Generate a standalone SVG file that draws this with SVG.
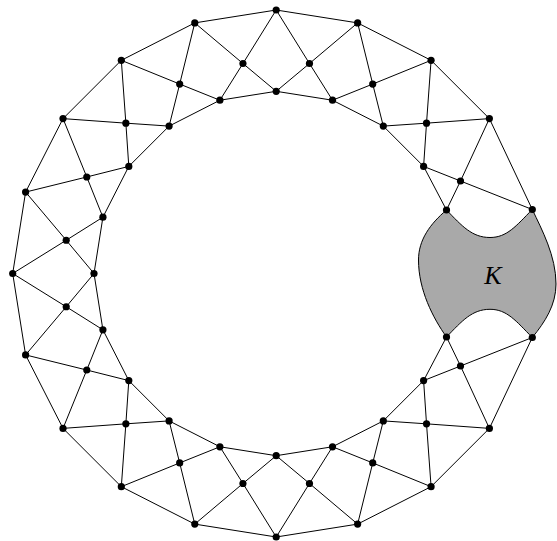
<svg xmlns="http://www.w3.org/2000/svg" width="557" height="541" viewBox="0 0 557 541">
<style>
.e{fill:none;stroke:#000;stroke-width:1;stroke-linejoin:round}
.n circle{fill:#000}
.k{fill:#a9a9a9;stroke:#000;stroke-width:1}
.lbl{font-family:"Liberation Serif",serif;font-style:italic;font-size:26px;fill:#000}
</style>
<rect width="557" height="541" fill="#fff"/>
<g id="K">
<path class="k" d="M446.5,210 C462,226 472,237.5 490,237.5 C507,237.5 516,226 532.3,209.5 C542,230 556,256 556,284 C556,305 545,322 532.3,337.5 C516,321 507,309.3 490,309.3 C472,309.3 462,321 446.5,337 C433,318 418.5,290 418.5,260 C418.5,240 430,224 446.5,210 Z"/>
<text class="lbl" x="493" y="284" text-anchor="middle">K</text>
</g>
<g id="connectors" class="e">
<polyline class="e" points="532.3,209.5 489.38,118.62 431.08,60.32 357.63,22.9 276.2,10 194.77,22.9 121.32,60.32 63.02,118.62 25.6,192.07 12.7,273.5 25.6,354.93 63.02,428.38 121.32,486.68 194.77,524.1 276.2,537 357.63,524.1 431.08,486.68 489.38,428.38 532.3,337.5"/>
<polyline class="e" points="446.5,210 423.6,166.4 383.3,126.1 332.5,100.22 276.2,91.3 219.9,100.22 169.1,126.1 128.8,166.4 102.92,217.2 94,273.5 102.92,329.8 128.8,380.6 169.1,420.9 219.9,446.78 276.2,455.7 332.5,446.78 383.3,420.9 423.6,380.6 446.5,337"/>
<path class="e" d="M276.2,10 L309.46,63.52 L357.63,22.9 M276.2,91.3 L309.46,63.52 L332.5,100.22"/>
<path class="e" d="M357.63,22.9 L372.72,84.07 L431.08,60.32 M332.5,100.22 L372.72,84.07 L383.3,126.1"/>
<path class="e" d="M431.08,60.32 L426.53,123.17 L489.38,118.62 M383.3,126.1 L426.53,123.17 L423.6,166.4"/>
<path class="e" d="M489.38,118.62 L460.5,181 L532.3,209.5 M423.6,166.4 L460.5,181 L446.5,210"/>
<path class="e" d="M532.3,337.5 L460.5,366 L489.38,428.38 M446.5,337 L460.5,366 L423.6,380.6"/>
<path class="e" d="M489.38,428.38 L426.53,423.83 L431.08,486.68 M423.6,380.6 L426.53,423.83 L383.3,420.9"/>
<path class="e" d="M431.08,486.68 L372.72,462.93 L357.63,524.1 M383.3,420.9 L372.72,462.93 L332.5,446.78"/>
<path class="e" d="M357.63,524.1 L309.46,483.48 L276.2,537 M332.5,446.78 L309.46,483.48 L276.2,455.7"/>
<path class="e" d="M276.2,537 L242.94,483.48 L194.77,524.1 M276.2,455.7 L242.94,483.48 L219.9,446.78"/>
<path class="e" d="M194.77,524.1 L179.68,462.93 L121.32,486.68 M219.9,446.78 L179.68,462.93 L169.1,420.9"/>
<path class="e" d="M121.32,486.68 L125.87,423.83 L63.02,428.38 M169.1,420.9 L125.87,423.83 L128.8,380.6"/>
<path class="e" d="M63.02,428.38 L86.77,370.02 L25.6,354.93 M128.8,380.6 L86.77,370.02 L102.92,329.8"/>
<path class="e" d="M25.6,354.93 L66.22,306.76 L12.7,273.5 M102.92,329.8 L66.22,306.76 L94,273.5"/>
<path class="e" d="M12.7,273.5 L66.22,240.24 L25.6,192.07 M94,273.5 L66.22,240.24 L102.92,217.2"/>
<path class="e" d="M25.6,192.07 L86.77,176.98 L63.02,118.62 M102.92,217.2 L86.77,176.98 L128.8,166.4"/>
<path class="e" d="M63.02,118.62 L125.87,123.17 L121.32,60.32 M128.8,166.4 L125.87,123.17 L169.1,126.1"/>
<path class="e" d="M121.32,60.32 L179.68,84.07 L194.77,22.9 M169.1,126.1 L179.68,84.07 L219.9,100.22"/>
<path class="e" d="M194.77,22.9 L242.94,63.52 L276.2,10 M219.9,100.22 L242.94,63.52 L276.2,91.3"/>
</g>
<g class="n">
<g id="o0"><circle cx="276.2" cy="10" r="3.6"/></g>
<g id="o18"><circle cx="357.63" cy="22.9" r="3.6"/></g>
<g id="o36"><circle cx="431.08" cy="60.32" r="3.6"/></g>
<g id="o54"><circle cx="489.38" cy="118.62" r="3.6"/></g>
<g id="oTR"><circle cx="532.3" cy="209.5" r="3.6"/></g>
<g id="oBR"><circle cx="532.3" cy="337.5" r="3.6"/></g>
<g id="o126"><circle cx="489.38" cy="428.38" r="3.6"/></g>
<g id="o144"><circle cx="431.08" cy="486.68" r="3.6"/></g>
<g id="o162"><circle cx="357.63" cy="524.1" r="3.6"/></g>
<g id="o180"><circle cx="276.2" cy="537" r="3.6"/></g>
<g id="o198"><circle cx="194.77" cy="524.1" r="3.6"/></g>
<g id="o216"><circle cx="121.32" cy="486.68" r="3.6"/></g>
<g id="o234"><circle cx="63.02" cy="428.38" r="3.6"/></g>
<g id="o252"><circle cx="25.6" cy="354.93" r="3.6"/></g>
<g id="o270"><circle cx="12.7" cy="273.5" r="3.6"/></g>
<g id="o288"><circle cx="25.6" cy="192.07" r="3.6"/></g>
<g id="o306"><circle cx="63.02" cy="118.62" r="3.6"/></g>
<g id="o324"><circle cx="121.32" cy="60.32" r="3.6"/></g>
<g id="o342"><circle cx="194.77" cy="22.9" r="3.6"/></g>
<g id="m9"><circle cx="309.46" cy="63.52" r="3.6"/></g>
<g id="m27"><circle cx="372.72" cy="84.07" r="3.6"/></g>
<g id="m45"><circle cx="426.53" cy="123.17" r="3.6"/></g>
<g id="m63"><circle cx="460.5" cy="181" r="3.6"/></g>
<g id="m117"><circle cx="460.5" cy="366" r="3.6"/></g>
<g id="m135"><circle cx="426.53" cy="423.83" r="3.6"/></g>
<g id="m153"><circle cx="372.72" cy="462.93" r="3.6"/></g>
<g id="m171"><circle cx="309.46" cy="483.48" r="3.6"/></g>
<g id="m189"><circle cx="242.94" cy="483.48" r="3.6"/></g>
<g id="m207"><circle cx="179.68" cy="462.93" r="3.6"/></g>
<g id="m225"><circle cx="125.87" cy="423.83" r="3.6"/></g>
<g id="m243"><circle cx="86.77" cy="370.02" r="3.6"/></g>
<g id="m261"><circle cx="66.22" cy="306.76" r="3.6"/></g>
<g id="m279"><circle cx="66.22" cy="240.24" r="3.6"/></g>
<g id="m297"><circle cx="86.77" cy="176.98" r="3.6"/></g>
<g id="m315"><circle cx="125.87" cy="123.17" r="3.6"/></g>
<g id="m333"><circle cx="179.68" cy="84.07" r="3.6"/></g>
<g id="m351"><circle cx="242.94" cy="63.52" r="3.6"/></g>
<g id="i0"><circle cx="276.2" cy="91.3" r="3.6"/></g>
<g id="i18"><circle cx="332.5" cy="100.22" r="3.6"/></g>
<g id="i36"><circle cx="383.3" cy="126.1" r="3.6"/></g>
<g id="i54"><circle cx="423.6" cy="166.4" r="3.6"/></g>
<g id="iTL"><circle cx="446.5" cy="210" r="3.6"/></g>
<g id="iBL"><circle cx="446.5" cy="337" r="3.6"/></g>
<g id="i126"><circle cx="423.6" cy="380.6" r="3.6"/></g>
<g id="i144"><circle cx="383.3" cy="420.9" r="3.6"/></g>
<g id="i162"><circle cx="332.5" cy="446.78" r="3.6"/></g>
<g id="i180"><circle cx="276.2" cy="455.7" r="3.6"/></g>
<g id="i198"><circle cx="219.9" cy="446.78" r="3.6"/></g>
<g id="i216"><circle cx="169.1" cy="420.9" r="3.6"/></g>
<g id="i234"><circle cx="128.8" cy="380.6" r="3.6"/></g>
<g id="i252"><circle cx="102.92" cy="329.8" r="3.6"/></g>
<g id="i270"><circle cx="94" cy="273.5" r="3.6"/></g>
<g id="i288"><circle cx="102.92" cy="217.2" r="3.6"/></g>
<g id="i306"><circle cx="128.8" cy="166.4" r="3.6"/></g>
<g id="i324"><circle cx="169.1" cy="126.1" r="3.6"/></g>
<g id="i342"><circle cx="219.9" cy="100.22" r="3.6"/></g>
</g>
</svg>
